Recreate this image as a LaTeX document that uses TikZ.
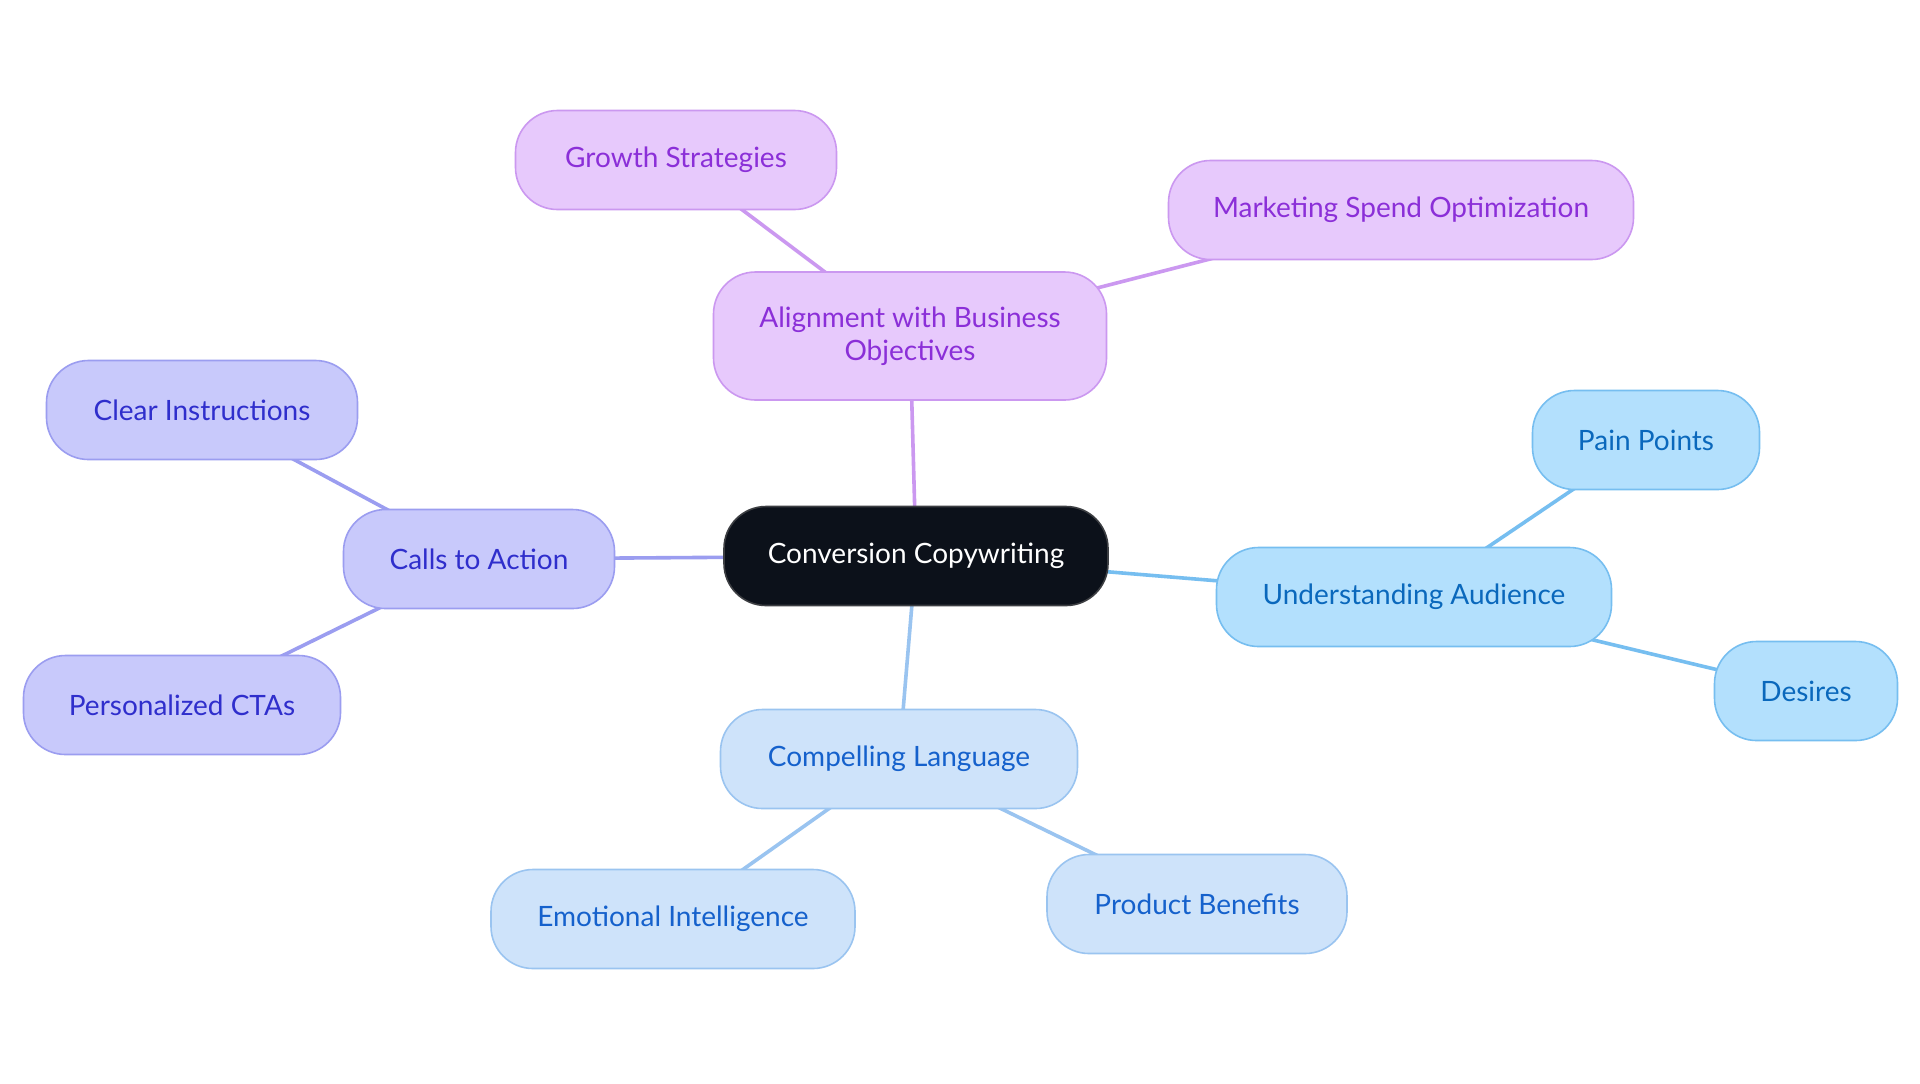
\documentclass[tikz,border=0pt]{standalone}
\usepackage{fontspec}
\setmainfont{Lato}
\definecolor{RootFill}{RGB}{12,17,26}
\definecolor{RootLine}{RGB}{60,62,66}
\definecolor{GoalFill}{RGB}{231,201,252}
\definecolor{GoalLine}{RGB}{203,152,240}
\definecolor{GoalText}{RGB}{139,47,216}
\definecolor{CtaFill}{RGB}{200,201,251}
\definecolor{CtaLine}{RGB}{155,157,240}
\definecolor{CtaText}{RGB}{47,46,204}
\definecolor{AudFill}{RGB}{179,224,253}
\definecolor{AudLine}{RGB}{118,190,240}
\definecolor{AudText}{RGB}{10,104,188}
\definecolor{LangFill}{RGB}{206,227,250}
\definecolor{LangLine}{RGB}{154,196,240}
\definecolor{LangText}{RGB}{21,97,204}
\usetikzlibrary{backgrounds}

\tikzset{
  topic/.style={rounded corners=21pt, line width=0.8pt, minimum height=49.5pt,
                inner sep=0pt, align=center, font=\fontsize{14}{16.5}\selectfont},
  rootbox/.style={topic, fill=RootFill, draw=RootLine, text=white},
  goalbox/.style={topic, fill=GoalFill, draw=GoalLine, text=GoalText},
  ctabox/.style={topic, fill=CtaFill, draw=CtaLine, text=CtaText},
  audbox/.style={topic, fill=AudFill, draw=AudLine, text=AudText},
  langbox/.style={topic, fill=LangFill, draw=LangLine, text=LangText},
  link/.style={line width=1.8pt}
}

\begin{document}
\begin{tikzpicture}[x=0.5pt, y=-0.5pt]
    \useasboundingbox (0,0) rectangle (1920,1083);

    % centre
    \node[rootbox, minimum width=192pt] (root) at (916,556) {Conversion Copywriting};

    % business objectives
    \node[goalbox, minimum width=196.5pt, minimum height=64pt] (align) at (910,336)
      {Alignment with Business\\Objectives};
    \node[goalbox, minimum width=160.5pt] (growth) at (676,160) {Growth Strategies};
    \node[goalbox, minimum width=232.5pt] (spend) at (1401,210) {Marketing Spend Optimization};

    % calls to action
    \node[ctabox, minimum width=135.5pt] (cta) at (479,559) {Calls to Action};
    \node[ctabox, minimum width=155.5pt] (clear) at (202,410) {Clear Instructions};
    \node[ctabox, minimum width=158.5pt] (perso) at (182,705) {Personalized CTAs};

    % audience
    \node[audbox, minimum width=197.5pt] (aud) at (1414,597) {Understanding Audience};
    \node[audbox, minimum width=113.5pt] (pain) at (1646,440) {Pain Points};
    \node[audbox, minimum width=91.5pt] (desire) at (1806,691) {Desires};

    % language
    \node[langbox, minimum width=178.5pt] (lang) at (899,759) {Compelling Language};
    \node[langbox, minimum width=182pt] (emo) at (673,919) {Emotional Intelligence};
    \node[langbox, minimum width=150pt] (benefit) at (1197,904) {Product Benefits};

    % connectors (centre to centre, hidden under the boxes)
    \begin{scope}[on background layer]
      \fill[white] (0,0) rectangle (1920,1083);
      \draw[link, GoalLine] (root.center) -- (align.center);
      \draw[link, GoalLine] (align.center) -- (growth.center);
      \draw[link, GoalLine] (align.center) -- (spend.center);
      \draw[link, CtaLine] (root.center) -- (cta.center);
      \draw[link, CtaLine] (cta.center) -- (clear.center);
      \draw[link, CtaLine] (cta.center) -- (perso.center);
      \draw[link, AudLine] (root.center) -- (aud.center);
      \draw[link, AudLine] (aud.center) -- (pain.center);
      \draw[link, AudLine] (aud.center) -- (desire.center);
      \draw[link, LangLine] (root.center) -- (lang.center);
      \draw[link, LangLine] (lang.center) -- (emo.center);
      \draw[link, LangLine] (lang.center) -- (benefit.center);
    \end{scope}
\end{tikzpicture}
\end{document}
